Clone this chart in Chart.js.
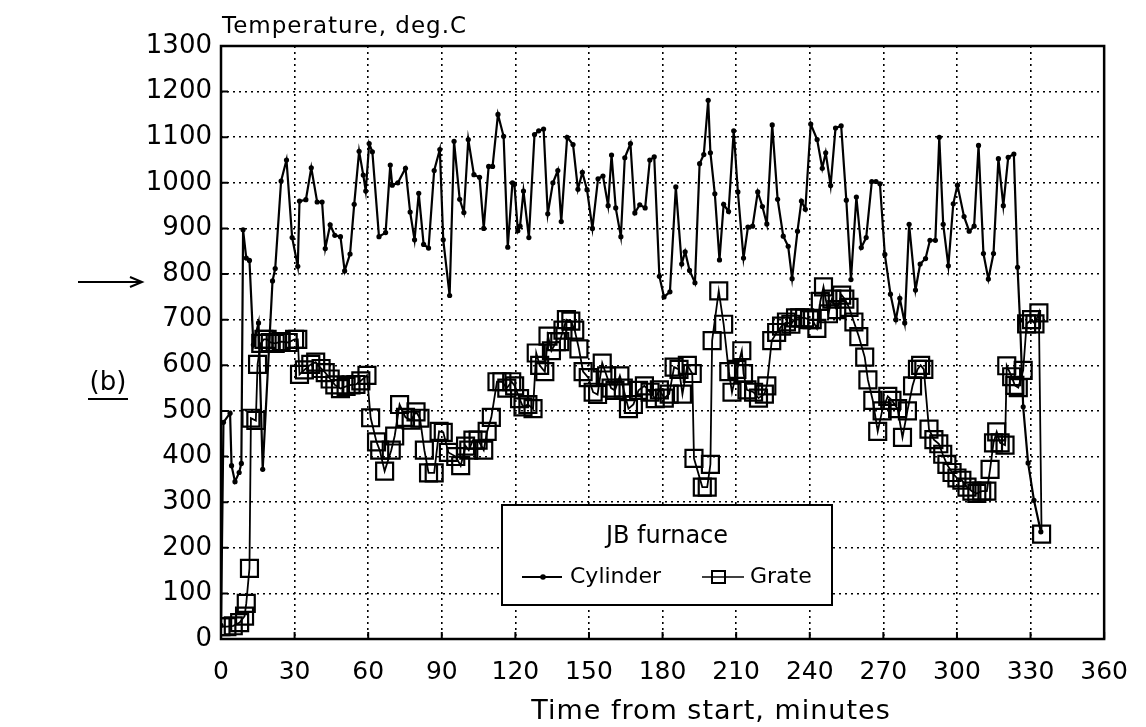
<!DOCTYPE html>
<html>
<head>
<meta charset="utf-8">
<title>JB furnace temperatures</title>
<script src="https://cdn.jsdelivr.net/npm/chart.js@4"></script>
<style>
    html, body { margin: 0; padding: 0; background: #fff; }
    canvas { display: block; }
</style>
</head>
<body>
<canvas id="furnaceChart" width="1146" height="727"></canvas>
<script>
// 时间轴刻度（分钟）和温度刻度
const timeTicks = [0, 30, 60, 90, 120, 150, 180, 210, 240, 270, 300, 330, 360];
const tempTicks = [0, 100, 200, 300, 400, 500, 600, 700, 800, 900, 1000, 1100, 1200, 1300];

// 炉筒温度 Cylinder
const cylinderTime = [
    0, 1, 3.7, 4.3, 5.7, 7.4, 8.3, 9, 10.3, 11.6, 13.2, 15.3, 17, 21, 22.1, 24.5, 26.7, 29,
    31.3, 32, 34.6, 36.8, 39.2, 41.2, 42.5, 44.5, 46.4, 48.7, 50.4, 52.6, 54.3, 56.3, 58,
    59, 60.4, 61.7, 64.4, 67.1, 69, 69.8, 72.1, 75.2, 77.1, 78.9, 80.6, 82.6, 84.6, 86.9,
    89.2, 90.6, 93.2, 95, 97.3, 99, 100.8, 103.1, 105.4, 107.1, 109.1, 110.7, 112.9, 115.2,
    116.9, 118.8, 119.6, 121, 121.9, 123.3, 125.5, 127.8, 129.5, 131.5, 133.2, 135.3, 137.3,
    138.7, 141.1, 143.5, 145.5, 147.3, 149.2, 151.4, 153.7, 155.7, 157.8, 159.2, 160.9, 163,
    164.6, 166.9, 168.7, 170.7, 172.9, 174.8, 176.6, 178.7, 180.6, 183, 185.4, 187.8, 189.2,
    191, 193.2, 195.1, 196.8, 198.6, 199.5, 201.3, 203.2, 204.9, 206.9, 209, 210.7, 213,
    214.8, 216.7, 218.8, 220.7, 222.5, 224.7, 226.9, 229.2, 231.2, 232.8, 235, 236.6, 238.2,
    240.4, 243, 245.1, 246.5, 248.5, 250.5, 252.8, 254.9, 256.8, 259, 261, 263, 265.3, 267,
    268.6, 270.6, 272.9, 275.1, 276.7, 278.7, 280.5, 283.1, 285, 287.2, 289, 291.2, 292.8,
    294.4, 296.5, 298.5, 300.2, 302.9, 305, 307, 308.8, 310.8, 312.8, 314.9, 316.9, 318.9,
    320.9, 323.2, 324.7, 325.7, 327, 329, 331.4, 334.2
];
const cylinderTemp = [
    30, 475, 495, 380, 345, 365, 385, 897, 835, 830, 645, 693, 372, 785, 812, 1004, 1050, 880,
    817, 960, 963, 1033, 958, 958, 856, 908, 885, 882, 807, 844, 953, 1069, 1017,
    982, 1086, 1068, 882, 891, 1039, 995, 1000, 1032, 936, 875, 977, 865, 857, 1027,
    1073, 875, 753, 1091, 964, 935, 1095, 1018, 1012, 900, 1036, 1036, 1150, 1102,
    859, 1000, 997, 895, 905, 982, 880, 1106, 1114, 1118, 932, 1000, 1027,
    915, 1100, 1084, 986, 1023, 985, 900, 1009, 1015, 950, 1061, 945, 882,
    1055, 1086, 934, 952, 945, 1050, 1057, 795, 750, 761, 991, 822, 849,
    808, 781, 1042, 1062, 1181, 1066, 976, 831, 953, 937, 1114, 980, 835,
    903, 905, 980, 948, 910, 1127, 964, 883, 861, 790, 894, 960, 942,
    1129, 1095, 1032, 1066, 994, 1120, 1125, 962, 788, 969, 858, 880, 1003, 1003,
    998, 843, 756, 700, 747, 693, 909, 765, 822, 834, 874, 874, 1100,
    909, 818, 954, 995, 926, 894, 905, 1082, 845, 789, 845, 1053, 950,
    1056, 1063, 815, 699, 509, 386, 304, 235
];

// 炉排温度 Grate
const grateTime = [
    0, 2.4, 5, 7.6, 9.6, 10.3, 11.6, 12.2, 14.2, 14.9, 16.2, 17.5, 18.8, 20.1, 22.1, 24.5,
    27.4, 30, 31.3, 32, 34, 36.6, 38.6, 40.8, 42.5, 44.5, 46.4, 48.7, 51, 53, 55, 57, 59.5,
    61, 63.4, 64.7, 66.7, 69.4, 70.8, 72.8, 75.2, 77.5, 79.5, 81.1, 82.9, 84.6, 86.9, 88.9,
    90.6, 92.7, 95.7, 97.7, 99.7, 101, 102.7, 104.8, 107.1, 108.5, 110.2, 112.5, 114.5,
    116.5, 118.5, 119.7, 121.7, 123.1, 125.1, 127.2, 128.5, 129.9, 132, 133.3, 134.7, 136.7,
    138.1, 139.4, 140.8, 142.6, 144.2, 145.9, 147.6, 149.7, 151.7, 153.5, 155.4, 157.2, 159,
    160.6, 162.6, 164, 166.1, 168.1, 170.2, 172.6, 174.9, 177, 178.7, 180.7, 182.7, 184.7,
    186.7, 188.1, 190.1, 192.1, 192.8, 196.2, 198.2, 199.5, 200.2, 202.9, 204.9, 207, 208.3,
    210.3, 212.3, 213, 214.4, 217.1, 219.1, 221.5, 222.5, 224.5, 226.5, 228.5, 230.5, 232.3,
    234.2, 235.9, 237.9, 239.9, 241, 242.9, 244.3, 245.6, 247.6, 249, 251, 253, 254.3, 256,
    258, 260, 262.4, 263.7, 265.7, 267.7, 269.5, 271.8, 273.5, 275.8, 277.8, 279.8, 281.9,
    283.9, 285.2, 286.5, 288.6, 290.6, 292.6, 294.2, 295.9, 298, 300, 302, 304.1, 306.1,
    308.1, 310.1, 312.2, 313.5, 314.9, 316.2, 317.6, 319.6, 320.3, 322.3, 323.6, 325, 327,
    328.4, 330.4, 331.8, 333.4, 334.5
];
const grateTemp = [
    27, 27, 29, 36, 50, 78, 155, 484, 479, 602, 648, 657, 657, 650, 648, 652,
    650, 657, 657, 580, 590, 602, 607, 593, 584, 570, 557, 549, 554, 557, 558, 566, 578,
    485, 432, 414, 368, 414, 445, 514, 486, 480, 498, 484, 414, 364, 364, 455,
    453, 409, 400, 380, 423, 414, 436, 436, 414, 455, 486, 564, 564,
    550, 564, 555, 527, 509, 514, 505, 627, 600, 586, 664, 632, 652,
    652, 677, 700, 697, 677, 636, 586, 573, 541, 536, 605, 577, 550,
    545, 577, 550, 505, 514, 545, 555, 541, 527, 546, 528, 537, 596,
    591, 537, 600, 582, 396, 333, 333, 383, 654, 763, 690, 586, 541,
    591, 632, 582, 546, 541, 528, 537, 555, 654, 672, 686, 695, 690,
    704, 704, 704, 700, 700, 681, 740, 772, 713, 745, 722, 754, 745, 727,
    695, 663, 618, 568, 523, 455, 500, 532, 523, 505, 442, 500, 555,
    591, 600, 591, 460, 437, 428, 405, 383, 365, 353, 348, 333, 324,
    319, 324, 324, 372, 430, 454, 430, 425, 599, 575, 556, 551, 589,
    691, 700, 691, 715, 230
];

const FONT = '"DejaVu Sans", "Liberation Sans", sans-serif';

// 把时间和温度数组拼成点
function toPoints(times, temps) {
    return times.map((t, i) => ({ x: t, y: temps[i] }));
}

// 外框、内侧刻度线、标题、图例等装饰
const decorPlugin = {
    id: 'decor',
    afterDatasetsDraw(chart) {
        const { ctx, chartArea: a, scales } = chart;
        ctx.save();
        ctx.strokeStyle = '#000';
        ctx.fillStyle = '#000';

        // 内侧短刻度
        ctx.lineWidth = 2;
        ctx.beginPath();
        tempTicks.forEach(v => {
            const y = scales.y.getPixelForValue(v);
            ctx.moveTo(a.left, y);
            ctx.lineTo(a.left + 7, y);
        });
        timeTicks.forEach(v => {
            const x = scales.x.getPixelForValue(v);
            ctx.moveTo(x, a.bottom);
            ctx.lineTo(x, a.bottom - 7);
        });
        ctx.stroke();

        // 外框
        ctx.lineWidth = 2.5;
        ctx.strokeRect(a.left, a.top, a.right - a.left, a.bottom - a.top);

        // 图例框
        const lx = 502, ly = 505, lw = 330, lh = 100;
        ctx.fillStyle = '#fff';
        ctx.fillRect(lx, ly, lw, lh);
        ctx.lineWidth = 2;
        ctx.strokeRect(lx, ly, lw, lh);
        ctx.fillStyle = '#000';
        ctx.font = '24px ' + FONT;
        ctx.textBaseline = 'middle';
        ctx.textAlign = 'center';
        ctx.fillText('JB furnace', 667, 537);

        ctx.font = '22px ' + FONT;
        ctx.textAlign = 'left';
        ctx.beginPath();
        ctx.moveTo(522, 577);
        ctx.lineTo(562, 577);
        ctx.stroke();
        ctx.beginPath();
        ctx.arc(543, 577, 2.8, 0, Math.PI * 2);
        ctx.fill();
        ctx.fillText('Cylinder', 570, 577);

        ctx.lineWidth = 1.5;
        ctx.beginPath();
        ctx.moveTo(702, 577);
        ctx.lineTo(744, 577);
        ctx.stroke();
        ctx.lineWidth = 2;
        ctx.strokeRect(712, 571, 13, 12);
        ctx.fillText('Grate', 750, 577);

        // 轴标题
        ctx.letterSpacing = '1px';
        ctx.font = '23px ' + FONT;
        ctx.textBaseline = 'alphabetic';
        ctx.fillText('Temperature, deg.C', 222, 33);
        ctx.font = '27px ' + FONT;
        ctx.textAlign = 'center';
        ctx.textBaseline = 'middle';
        ctx.fillText('Time from start, minutes', 711, 712);
        ctx.letterSpacing = '0px';

        // 左侧 (b) 和箭头
        ctx.font = '26px ' + FONT;
        ctx.fillText('(b)', 108, 383);
        ctx.lineWidth = 2;
        ctx.beginPath();
        ctx.moveTo(88, 399);
        ctx.lineTo(128, 399);
        ctx.moveTo(78, 282);
        ctx.lineTo(141, 282);
        ctx.moveTo(130, 277);
        ctx.lineTo(142, 282);
        ctx.lineTo(130, 287);
        ctx.stroke();

        ctx.restore();
    }
};

const ctx = document.getElementById('furnaceChart');
new Chart(ctx, {
    type: 'line',
    data: {
        datasets: [
            {
                label: 'Cylinder',
                data: toPoints(cylinderTime, cylinderTemp),
                borderColor: '#000',
                backgroundColor: '#000',
                borderWidth: 2.2,
                pointStyle: 'circle',
                pointRadius: 2.6,
                pointBorderWidth: 0,
                tension: 0
            },
            {
                label: 'Grate',
                data: toPoints(grateTime, grateTemp),
                borderColor: '#000',
                backgroundColor: 'rgba(0,0,0,0)',
                borderWidth: 1.8,
                pointStyle: 'rect',
                pointRadius: 12,
                pointBorderWidth: 2.2,
                tension: 0
            }
        ]
    },
    options: {
        responsive: false,
        animation: false,
        devicePixelRatio: 1,
        layout: {
            padding: { left: 0, right: 38, top: 46, bottom: 0 }
        },
        plugins: {
            legend: { display: false },
            tooltip: { enabled: false }
        },
        scales: {
            x: {
                type: 'linear',
                min: 0,
                max: 360,
                afterBuildTicks: scale => {
                    scale.ticks = timeTicks.map(v => ({ value: v }));
                },
                afterFit: scale => { scale.height = 88; },
                ticks: {
                    color: '#000',
                    padding: 18,
                    maxRotation: 0,
                    callback: v => String(v),
                    font: { family: FONT, size: 25 }
                },
                grid: {
                    color: '#000',
                    lineWidth: 1.6,
                    drawTicks: false
                },
                border: { display: false, dash: [2, 4] }
            },
            y: {
                type: 'linear',
                min: 0,
                max: 1300,
                afterBuildTicks: scale => {
                    scale.ticks = tempTicks.map(v => ({ value: v }));
                },
                afterFit: scale => { scale.width = 221; },
                ticks: {
                    color: '#000',
                    padding: 9,
                    callback: v => String(v),
                    font: { family: FONT, size: 26 }
                },
                grid: {
                    color: '#000',
                    lineWidth: 1.6,
                    drawTicks: false
                },
                border: { display: false, dash: [2, 4] }
            }
        }
    },
    plugins: [decorPlugin]
});
</script>
</body>
</html>
